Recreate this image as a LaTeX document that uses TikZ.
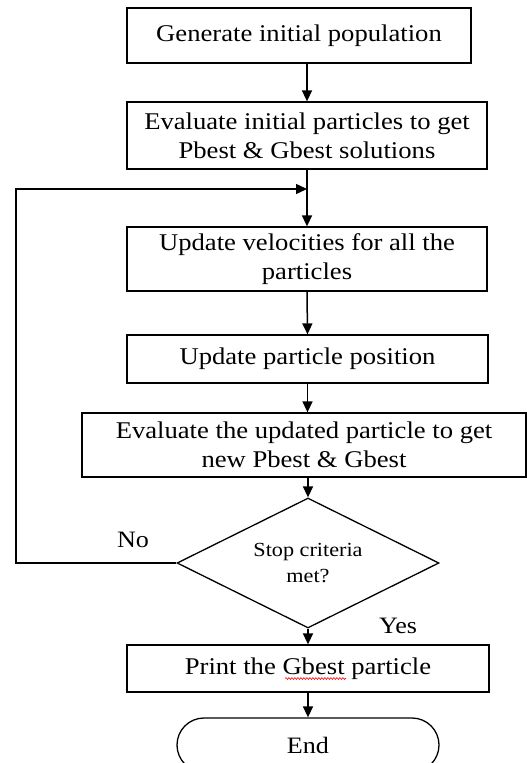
\documentclass[tikz,border=0pt]{standalone}
\usepackage{fontspec}
\setmainfont[FakeStretch=1.11]{Liberation Serif}
\usetikzlibrary{arrows.meta,shapes.geometric,shapes.misc,decorations.pathmorphing}
\begin{document}
\begin{tikzpicture}[x=1pt,y=-1pt,
  box/.style={draw, line width=1.3pt, rectangle, align=center, inner sep=0pt, font=\fontsize{24}{29}\selectfont},
  arr/.style={line width=1.5pt, -{Triangle[length=11pt,width=10pt]}},
  lbl/.style={font=\fontsize{23.5}{27}\selectfont}]
\useasboundingbox (0,0) rectangle (527,763);
\node[box, minimum width=344pt, minimum height=55pt] (b1) at (299,35.5) {Generate initial population};
\node[box, minimum width=360pt, minimum height=67pt] (b2) at (307,135.5) {Evaluate initial particles to get\\Pbest \& Gbest solutions};
\node[box, minimum width=360pt, minimum height=64pt] (b3) at (307,259) {Update velocities for all the\\particles};
\node[box, minimum width=361pt, minimum height=48pt] (b4) at (307.5,359) {Update particle position};
\node[box, minimum width=444pt, minimum height=64pt] (b5) at (304,445) {Evaluate the updated particle to get\\new Pbest \& Gbest};
\node[draw, line width=1.3pt, diamond, aspect=2, minimum width=262pt, minimum height=130pt, inner sep=0pt, align=center, font=\fontsize{20}{26}\selectfont] (d) at (308,563) {Stop criteria\\met?};
\node[box, minimum width=362pt, minimum height=47pt] (b6) at (308,668.5) {Print the Gbest particle};
\node[draw, line width=1.3pt, rounded rectangle, minimum width=262pt, minimum height=54pt, inner sep=0pt, font=\fontsize{23.5}{27}\selectfont] (e) at (308,745) {End};
\coordinate (j) at (307,189);
\coordinate (lc) at (16,563);
\node[lbl] (no) at (133,540) {No};
\node[lbl] (yes) at (398,626) {Yes};
\draw[arr] (b2.north |- b1.south) -- (b2.north);
\draw[arr] (b2.south) -- (b3.north);
\draw[arr] (d.west) -- (lc) |- (j);
\draw[arr] (b3.south) -- (b4.north);
\draw[arr] (b4.south) -- (b5.north -| b4.south);
\draw[arr] (b5.south -| d.north) -- (d.north);
\draw[arr] (d.south) -- (b6.north);
\draw[arr] (b6.south) -- (e.north);
\draw[red, line width=0.6pt, decorate, decoration={snake, amplitude=0.9pt, segment length=3pt}] ([xshift=-23pt,yshift=-10pt]b6.center) -- ([xshift=38pt,yshift=-10pt]b6.center);
\end{tikzpicture}
\end{document}
